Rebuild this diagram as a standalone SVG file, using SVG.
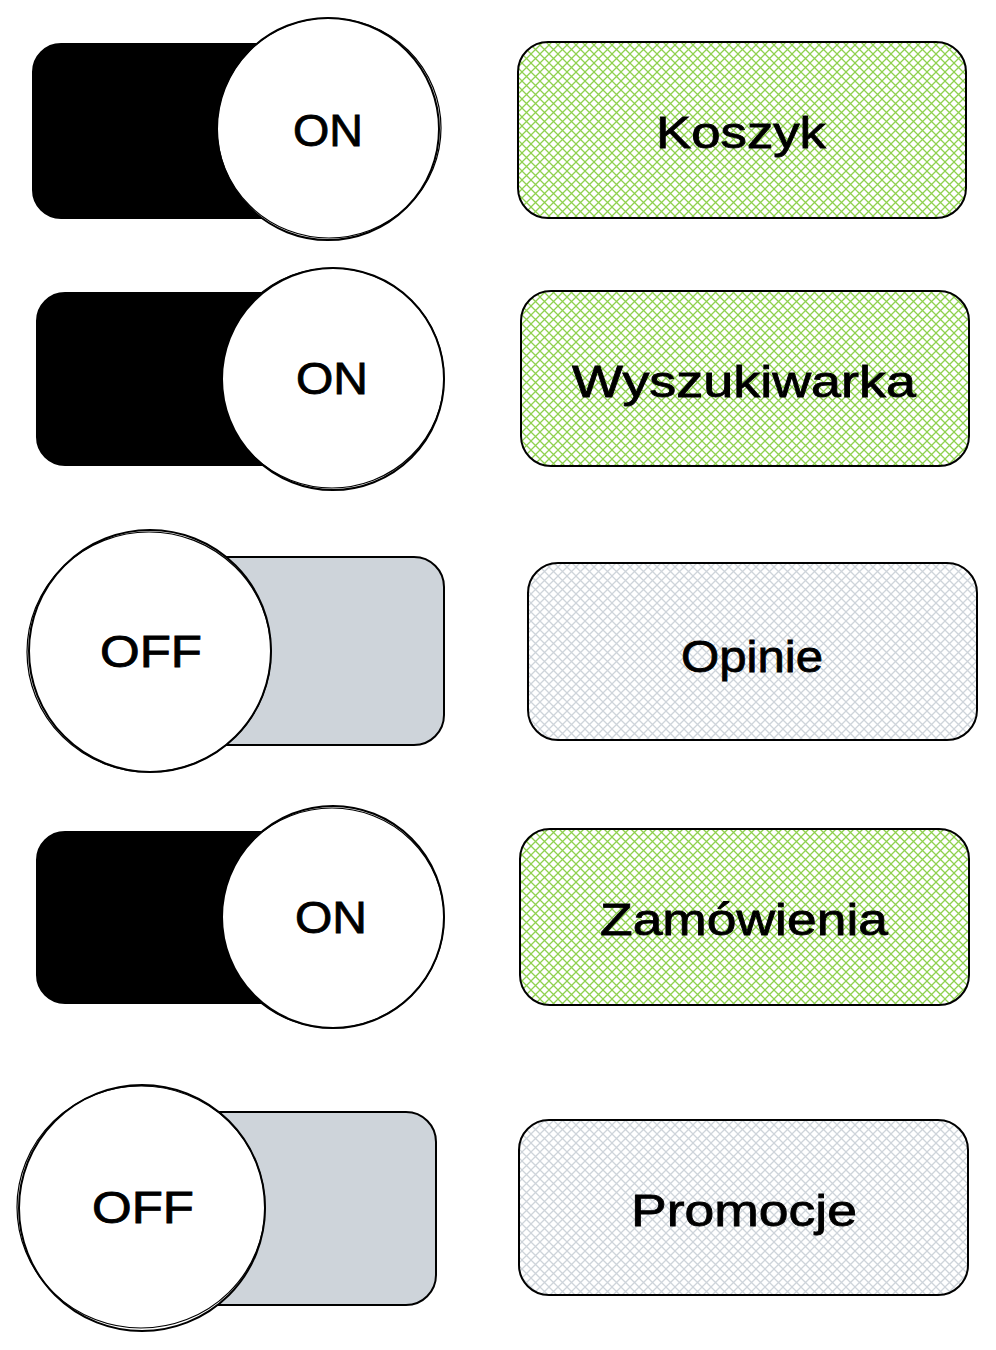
<svg xmlns="http://www.w3.org/2000/svg" width="996" height="1350" viewBox="0 0 996 1350">
<defs>
<pattern id="hatchGreen" patternUnits="userSpaceOnUse" width="9" height="9">
<path d="M-1,-1 L10,10 M10,-1 L-1,10" stroke="#8fd14f" stroke-width="1.3" fill="none"/>
</pattern>
<pattern id="hatchGray" patternUnits="userSpaceOnUse" width="9" height="9">
<path d="M-1,-1 L10,10 M10,-1 L-1,10" stroke="#ced4da" stroke-width="1.3" fill="none"/>
</pattern>
</defs>
<style>
.boxOn{stroke:#000;stroke-width:2;fill:url(#hatchGreen)}
.boxOff{stroke:#000;stroke-width:2;fill:url(#hatchGray)}
.knob{fill:#fff;stroke:#000;stroke-width:2}
.knob2{fill:none;stroke:#000;stroke-width:1.2}
.trackOn{fill:#000;stroke:#000;stroke-width:2}
.trackOff{fill:#ced4da;stroke:#000;stroke-width:2}
.sw{font-family:"Liberation Sans",Arial,sans-serif;font-size:44px;fill:#000;stroke:#000;stroke-width:0.8;text-anchor:middle;dominant-baseline:central}
</style>
<rect width="996" height="1350" fill="#fff"/>

<g id="toggle1">
<rect class="trackOn" x="33" y="44" width="300" height="174" rx="28"/>
<circle class="knob" cx="328" cy="129" r="111"/>
<ellipse class="knob2" cx="329" cy="128" rx="112" ry="110"/>
<text class="sw" x="328" y="130" textLength="70" lengthAdjust="spacingAndGlyphs">ON</text>
</g>
<g id="feature1">
<rect class="boxOn" x="518" y="42" width="448" height="176" rx="30"/>
<text class="sw" x="741" y="132" textLength="170" lengthAdjust="spacingAndGlyphs">Koszyk</text>
</g>

<g id="toggle2">
<rect class="trackOn" x="37" y="293" width="300" height="172" rx="28"/>
<circle class="knob" cx="333" cy="379" r="111"/>
<ellipse class="knob2" cx="332" cy="378" rx="112" ry="110"/>
<text class="sw" x="332" y="378" textLength="72" lengthAdjust="spacingAndGlyphs">ON</text>
</g>
<g id="feature2">
<rect class="boxOn" x="521" y="291" width="448" height="175" rx="30"/>
<text class="sw" x="744" y="381" textLength="344" lengthAdjust="spacingAndGlyphs">Wyszukiwarka</text>
</g>

<g id="toggle3">
<rect class="trackOff" x="150" y="557" width="294" height="188" rx="30"/>
<circle class="knob" cx="150" cy="651" r="121"/>
<ellipse class="knob2" cx="149" cy="652" rx="122" ry="120"/>
<text class="sw" x="151" y="651" textLength="102" lengthAdjust="spacingAndGlyphs">OFF</text>
</g>
<g id="feature3">
<rect class="boxOff" x="528" y="563" width="449" height="177" rx="30"/>
<text class="sw" x="752" y="656" textLength="142" lengthAdjust="spacingAndGlyphs">Opinie</text>
</g>

<g id="toggle4">
<rect class="trackOn" x="37" y="832" width="300" height="171" rx="28"/>
<circle class="knob" cx="333" cy="917" r="111"/>
<ellipse class="knob2" cx="332" cy="918" rx="112" ry="110"/>
<text class="sw" x="331" y="917" textLength="72" lengthAdjust="spacingAndGlyphs">ON</text>
</g>
<g id="feature4">
<rect class="boxOn" x="520" y="829" width="449" height="176" rx="30"/>
<text class="sw" x="744" y="919" textLength="288" lengthAdjust="spacingAndGlyphs">Zamówienia</text>
</g>

<g id="toggle5">
<rect class="trackOff" x="142" y="1112" width="294" height="193" rx="30"/>
<circle class="knob" cx="142" cy="1208" r="123"/>
<ellipse class="knob2" cx="141" cy="1207" rx="124" ry="121"/>
<text class="sw" x="143" y="1207" textLength="102" lengthAdjust="spacingAndGlyphs">OFF</text>
</g>
<g id="feature5">
<rect class="boxOff" x="519" y="1120" width="449" height="175" rx="30"/>
<text class="sw" x="744" y="1210" textLength="226" lengthAdjust="spacingAndGlyphs">Promocje</text>
</g>
</svg>
